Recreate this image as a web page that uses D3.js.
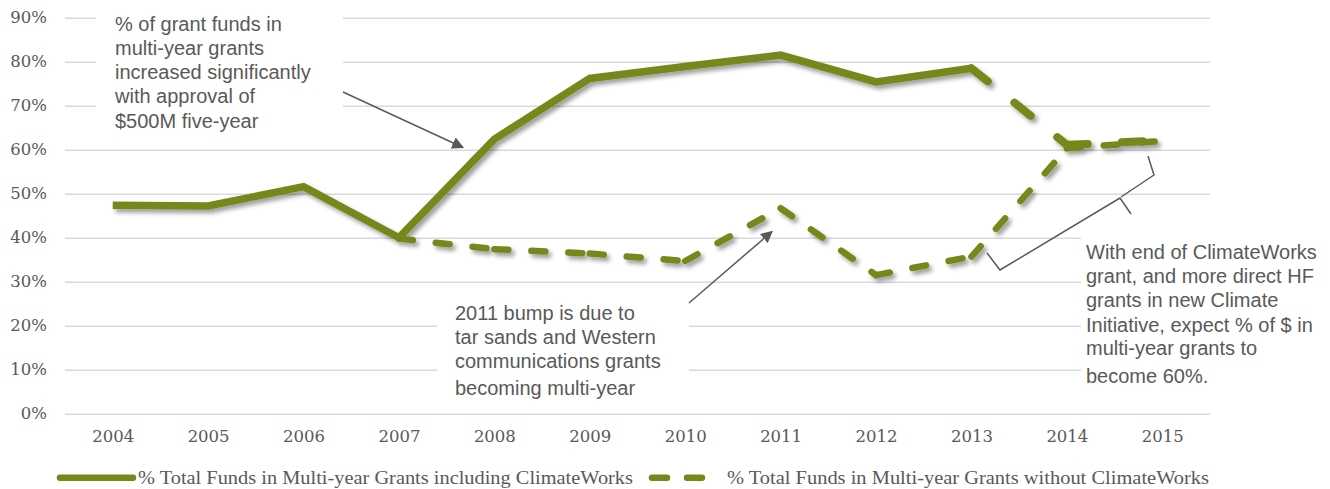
<!DOCTYPE html>
<html>
<head>
<meta charset="utf-8">
<script src="https://cdn.jsdelivr.net/npm/d3@7"></script>
<style>
  html, body { margin: 0; padding: 0; background: #fff; }
  svg { display: block; }
</style>
</head>
<body>
<svg id="chart" width="1330" height="489"></svg>
<script>
// ---------- DATA ----------
const years = [2004, 2005, 2006, 2007, 2008, 2009, 2010, 2011, 2012, 2013, 2014, 2015];
const includingCW = [47.4, 47.2, 51.6, 40.0, 62.4, 76.2, 78.9, 81.5, 75.4, 78.5, 61.1, 62.1];
const withoutCW = [null, null, null, 39.8, 37.4, 36.4, 34.7, 46.7, 31.5, 35.7, 60.3, 62.0];
const projectionStartYear = 2013; // including series drawn dashed from here on
const yTicks = [0, 10, 20, 30, 40, 50, 60, 70, 80, 90];
const seriesNames = [
  "% Total Funds in Multi-year Grants including ClimateWorks",
  "% Total Funds in Multi-year Grants without ClimateWorks"
];
const note1 = ["% of grant funds in", "multi-year grants", "increased significantly", "with approval of", "$500M five-year"];
const note2 = ["2011 bump is due to", "tar sands and Western", "communications grants", "becoming multi-year"];
const note3 = ["With end of ClimateWorks", "grant, and more direct HF", "grants in new Climate", "Initiative, expect % of $ in", "multi-year grants to", "become 60%."];

(function () {
// ---------- STYLE ----------
const olive = "#78871A";
const gray = "#595959";
const gridColor = "#d9d9d9";
const serif = "'DejaVu Serif', 'Liberation Serif', serif";
const sans = "'Liberation Sans', Arial, sans-serif";

const svg = d3.select("#chart");
const pLeft = 65, pRight = 1210, pTop = 17.7, pBottom = 413.7;

const x = d3.scalePoint().domain(years).range([pLeft, pRight]).padding(0.5);
const y = d3.scaleLinear().domain([0, 90]).range([pBottom, pTop]);

// shadow filter
const defs = svg.append("defs");
const f = defs.append("filter").attr("id", "shadow")
  .attr("x", "-10%").attr("y", "-20%").attr("width", "130%").attr("height", "150%");
f.append("feDropShadow").attr("dx", 3).attr("dy", 3.5).attr("stdDeviation", 2.2)
  .attr("flood-color", "#000").attr("flood-opacity", 0.38);
defs.append("marker").attr("id", "arrow").attr("viewBox", "0 0 10 10")
  .attr("refX", 9).attr("refY", 5).attr("markerWidth", 12).attr("markerHeight", 12)
  .attr("markerUnits", "userSpaceOnUse").attr("orient", "auto")
  .append("path").attr("d", "M0,0 L10,5 L0,10 Z").attr("fill", gray);

// ---------- GRID + Y AXIS ----------
const yAxis = svg.append("g").attr("transform", `translate(${pLeft},0)`)
  .call(d3.axisLeft(y).tickValues(yTicks).tickFormat(d => d + "%")
    .tickSize(-(pRight - pLeft)).tickPadding(18));
yAxis.select(".domain").remove();
yAxis.selectAll(".tick line").attr("stroke", gridColor).attr("stroke-width", 1.6);
yAxis.selectAll(".tick text").attr("fill", gray).style("font-family", serif).style("font-size", "16.5px");

// ---------- X AXIS ----------
const xAxis = svg.append("g").attr("transform", `translate(0,${pBottom})`)
  .call(d3.axisBottom(x).tickSize(0).tickPadding(17).tickFormat(d3.format("d")));
xAxis.select(".domain").remove();
xAxis.selectAll(".tick text").attr("fill", gray).style("font-family", serif).style("font-size", "16.5px");

// ---------- ANNOTATION BACKGROUNDS (hide gridlines) ----------
svg.append("rect").attr("x", 96).attr("y", 0).attr("width", 247).attr("height", 140).attr("fill", "#fff");
svg.append("rect").attr("x", 437).attr("y", 290).attr("width", 252).attr("height", 116).attr("fill", "#fff");
svg.append("rect").attr("x", 1081).attr("y", 225).attr("width", 249).attr("height", 182).attr("fill", "#fff");

// ---------- LINES ----------
const line = d3.line().x(d => x(d.year)).y(d => y(d.value));
const lines = svg.append("g").attr("filter", "url(#shadow)");

const incData = years.map((yr, i) => ({ year: yr, value: includingCW[i] }));
const incSolid = incData.filter(d => d.year <= projectionStartYear);
const incProj = incData.filter(d => d.year >= projectionStartYear);
const woData = years.map((yr, i) => ({ year: yr, value: withoutCW[i] })).filter(d => d.value != null);

// without series: dashed, pattern restarting at every vertex
d3.pairs(woData).forEach(seg => {
  lines.append("path").attr("d", line(seg)).attr("fill", "none")
    .attr("stroke", olive).attr("stroke-width", 6.5)
    .attr("stroke-linecap", "round").attr("stroke-dasharray", "14,23");
});
// including series: solid part
lines.append("path").attr("d", line(incSolid)).attr("fill", "none")
  .attr("stroke", olive).attr("stroke-width", 7.5).attr("stroke-linejoin", "miter");
// including series: projected part
d3.pairs(incProj).forEach(seg => {
  lines.append("path").attr("d", line(seg)).attr("fill", "none")
    .attr("stroke", olive).attr("stroke-width", 8)
    .attr("stroke-linecap", "round").attr("stroke-dasharray", "21,34");
});

// ---------- ANNOTATIONS ----------
function note(txt, xPos, baselines) {
  const t = svg.append("text").attr("fill", gray).style("font-family", sans).style("font-size", "20px");
  txt.forEach((s, i) => t.append("tspan").attr("x", xPos).attr("y", baselines[i]).text(s));
}
note(note1, 115, [31, 55, 79, 103, 127.5]);
note(note2, 455, [320, 344, 368.3, 394.5]);
note(note3, 1086, [259, 282.7, 306.7, 331.7, 355, 382.7]);

// arrows
svg.append("line").attr("x1", 343).attr("y1", 92).attr("x2", 463).attr("y2", 147.5)
  .attr("stroke", gray).attr("stroke-width", 1.5).attr("marker-end", "url(#arrow)");
svg.append("line").attr("x1", 689).attr("y1", 303).attr("x2", 772).attr("y2", 231.5)
  .attr("stroke", gray).attr("stroke-width", 1.5).attr("marker-end", "url(#arrow)");

// brace
svg.append("path")
  .attr("d", "M987,253 L1000,270 L1120,198 L1131,214 M1121,197 L1154,175 L1148,156")
  .attr("fill", "none").attr("stroke", gray).attr("stroke-width", 1.5).attr("stroke-linejoin", "round");

// ---------- LEGEND ----------
const lg = svg.append("g");
lg.append("line").attr("x1", 60).attr("x2", 133).attr("y1", 477.7).attr("y2", 477.7)
  .attr("stroke", olive).attr("stroke-width", 6.5).attr("stroke-linecap", "round");
lg.append("text").attr("x", 138).attr("y", 483.5).attr("fill", gray)
  .style("font-family", "'Liberation Serif', serif").style("font-size", "19px")
  .attr("textLength", 495).attr("lengthAdjust", "spacingAndGlyphs").text(seriesNames[0]);
lg.append("line").attr("x1", 652).attr("x2", 704).attr("y1", 477.7).attr("y2", 477.7)
  .attr("stroke", olive).attr("stroke-width", 6.5).attr("stroke-linecap", "round")
  .attr("stroke-dasharray", "15,20");
lg.append("text").attr("x", 727).attr("y", 483.5).attr("fill", gray)
  .style("font-family", "'Liberation Serif', serif").style("font-size", "19px")
  .attr("textLength", 482).attr("lengthAdjust", "spacingAndGlyphs").text(seriesNames[1]);
})();
</script>
</body>
</html>
